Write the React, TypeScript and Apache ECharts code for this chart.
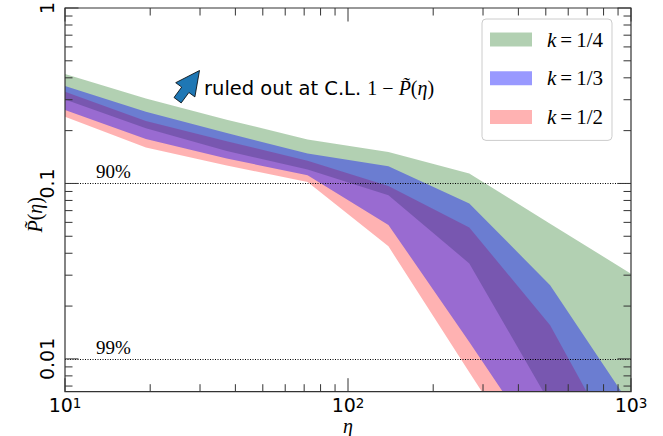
import React, { useEffect, useRef } from 'react';
import * as echarts from 'echarts';

// ---- data ----
const etaValues = [10, 19.31, 37.28, 71.97, 138.95, 268.27, 517.95, 1000];

const k14Upper = [0.42, 0.305, 0.231, 0.178, 0.151, 0.114, 0.0589, 0.0306];
const k14Lower = [0.301, 0.206, 0.153, 0.12, 0.0857, 0.035, 0.00556, 0.00088];

const k13Upper = [0.359, 0.256, 0.194, 0.148, 0.1255, 0.0769, 0.0263, 0.00538];
const k13Lower = [0.262, 0.179, 0.1385, 0.1115, 0.058, 0.0125, 0.00257, 0.00053];

const k12Upper = [0.333, 0.2266, 0.174, 0.1346, 0.0967, 0.0561, 0.01555, 0.00225];
const k12Lower = [0.24, 0.1605, 0.1264, 0.102, 0.0438, 0.0084, 0.00163, 0.00031];

const legendNames = ['k=1/4', 'k=1/3', 'k=1/2'];

const xMajorTicks = [10, 100, 1000];
const xTickExponents = ['1', '2', '3'];
const xMinorTicks = [20, 30, 40, 50, 60, 70, 80, 90, 200, 300, 400, 500, 600, 700, 800, 900];

const yMajorTicks = [0.01, 0.1, 1];
const yTickLabels = ['0.01', '0.1', '1'];
const yMinorTicks = [0.007, 0.008, 0.009, 0.02, 0.03, 0.04, 0.05, 0.06, 0.07, 0.08, 0.09, 0.2, 0.3, 0.4, 0.5, 0.6, 0.7, 0.8, 0.9];

const refLevels = [0.1, 0.01];
const refLabels = ['90%', '99%'];

const X_MIN = 10;
const X_MAX = 1000;
const Y_MIN = 0.0065;
const Y_MAX = 1;

// ---- styles ----
const SANS = 'DejaVu Sans';
const SERIF = 'Liberation Serif';
const AXIS_COLOR = '#333333';
const MAJOR_LEN = 13.5;
const MINOR_LEN = 7.5;

function findIndex(list: number[], v: number) {
  return list.findIndex((t) => Math.abs(t - v) / t < 1e-6);
}

function bandSeries(name: string, color: string, lower: number[], upper: number[]) {
  return {
    type: 'custom',
    name,
    clip: true,
    color,
    itemStyle: { color },
    silent: true,
    data: etaValues.map((x, i) => [x, lower[i], upper[i]]),
    encode: { x: 0, y: [1, 2] },
    renderItem: (params: any, api: any) => {
      if (params.dataIndex !== 0) return null;
      const top = etaValues.map((x, i) => api.coord([x, upper[i]]));
      const bot = etaValues.map((x, i) => api.coord([x, lower[i]])).reverse();
      return {
        type: 'polygon',
        shape: { points: [...top, ...bot] },
        style: { fill: color, stroke: 'none' },
      };
    },
  };
}

const legendRich = {
  i: { fontFamily: SERIF, fontStyle: 'italic', fontSize: 21, color: '#000' },
  m: { fontFamily: SERIF, fontSize: 21, color: '#000' },
  e: { fontFamily: SERIF, fontSize: 21, color: '#000', padding: [0, 4, 0, 4] },
};

const nameRich = {
  i: { fontFamily: SERIF, fontStyle: 'italic', fontSize: 20, color: '#000', lineHeight: 18 },
  m: { fontFamily: SERIF, fontSize: 20, color: '#000', lineHeight: 18 },
};

function buildOption() {
  const xTickAll = [...xMajorTicks, ...xMinorTicks];
  const yTickAll = [...yMajorTicks, ...yMinorTicks];

  return {
    animation: false,
    grid: { left: 65, right: 32, top: 8, bottom: 44.3, containLabel: false, outerBoundsMode: 'none' },
    xAxis: {
      type: 'log',
      logBase: 10,
      min: X_MIN,
      max: X_MAX,
      name: '{i|η}',
      nameLocation: 'middle',
      nameGap: 25,
      nameMoveOverlap: false,
      nameTextStyle: { rich: nameRich, lineHeight: 18, verticalAlign: 'top' },
      axisLine: { show: false },
      axisTick: { show: false },
      splitLine: { show: false },
      minorTick: { show: false },
      axisLabel: {
        margin: 4,
        color: '#000',
        lineHeight: 19,
        formatter: (v: number) => {
          const idx = findIndex(xMajorTicks, v);
          return idx < 0 ? '' : `{b|10}{s|${xTickExponents[idx]}}`;
        },
        rich: {
          b: { fontFamily: SANS, fontSize: 19, color: '#000', lineHeight: 19 },
          s: { fontFamily: SANS, fontSize: 13.5, color: '#000', verticalAlign: 'top', lineHeight: 14 },
        },
      },
    },
    yAxis: {
      type: 'log',
      logBase: 10,
      min: Y_MIN,
      max: Y_MAX,
      name: '{i|P\u0303}{m|(}{i|η}{m|)}',
      nameLocation: 'middle',
      nameRotate: 90,
      nameGap: 21,
      nameMoveOverlap: false,
      nameTextStyle: { rich: nameRich, padding: [0, 30, 0, 0] },
      axisLine: { show: false },
      axisTick: { show: false },
      splitLine: { show: false },
      axisLabel: {
        rotate: 90,
        margin: 9,
        color: '#000',
        fontFamily: SANS,
        fontSize: 19,
        formatter: (v: number) => {
          const idx = findIndex(yMajorTicks, v);
          return idx < 0 ? '' : yTickLabels[idx];
        },
      },
    },
    legend: {
      data: legendNames,
      orient: 'vertical',
      left: 482,
      top: 19,
      icon: 'rect',
      itemWidth: 42,
      itemHeight: 14,
      itemGap: 17.7,
      padding: [10, 9, 13, 8],
      backgroundColor: 'rgba(255,255,255,0.8)',
      borderColor: '#cccccc',
      borderWidth: 1,
      borderRadius: 4,
      selectedMode: false,
      formatter: (name: string) => `{i|k}{e|=}{m|${name.split('=')[1]}}`,
      textStyle: {
        padding: [0, 0, 0, 10],
        lineHeight: 14,
        rich: legendRich,
      },
    },
    graphic: [
      {
        type: 'polygon',
        z: 20,
        shape: {
          points: [
            [199.5, 70.5],
            [194.9, 96.9],
            [188.9, 92.5],
            [181.2, 102.9],
            [174.0, 97.5],
            [181.7, 87.1],
            [175.7, 82.7],
          ],
        },
        style: { fill: '#1f77b4', stroke: '#000', lineWidth: 0.8 },
      },
      {
        type: 'text',
        z: 20,
        x: 204,
        y: 88,
        style: {
          text: '{a|ruled out at C.L. }{m|1 − }{i|P\u0303}{m|(}{i|η}{m|)}',
          verticalAlign: 'middle',
          rich: {
            a: { fontFamily: SANS, fontSize: 19.5, fill: '#000' },
            i: { fontFamily: SERIF, fontStyle: 'italic', fontSize: 20, fill: '#000' },
            m: { fontFamily: SERIF, fontSize: 20, fill: '#000' },
          },
        },
      },
    ],
    series: [
      bandSeries(legendNames[0], 'rgba(0,100,0,0.3)', k14Lower, k14Upper),
      bandSeries(legendNames[2], 'rgba(255,0,0,0.3)', k12Lower, k12Upper),
      bandSeries(legendNames[1], 'rgba(0,0,255,0.4)', k13Lower, k13Upper),
      {
        type: 'line',
        name: 'ref',
        data: [],
        silent: true,
        z: 8,
        markLine: {
          silent: true,
          symbol: ['none', 'none'],
          lineStyle: { type: [1, 1.5], color: '#000', width: 1 },
          label: {
            position: 'insideStartTop',
            distance: [31, 2],
            fontFamily: SERIF,
            fontSize: 19,
            color: '#000',
          },
          data: refLevels.map((v, i) => ({ yAxis: v, label: { formatter: refLabels[i] } })),
        },
      },
      {
        type: 'custom',
        name: 'xticks',
        silent: true,
        z: 10,
        clip: false,
        data: xTickAll.map((v) => [v, 1]),
        renderItem: (params: any, api: any) => {
          const cs = params.coordSys;
          const v = api.value(0);
          const px = api.coord([v, 1])[0];
          const len = findIndex(xMajorTicks, v) >= 0 ? MAJOR_LEN : MINOR_LEN;
          const bottom = cs.y + cs.height;
          const top = cs.y;
          const style = { stroke: AXIS_COLOR, lineWidth: 1 };
          const children: any[] = [
            { type: 'line', shape: { x1: px, y1: bottom, x2: px, y2: bottom - len }, style },
            { type: 'line', shape: { x1: px, y1: top, x2: px, y2: top + len }, style },
          ];
          if (params.dataIndex === 0) {
            children.push({
              type: 'rect',
              shape: { x: cs.x, y: cs.y, width: cs.width, height: cs.height },
              style: { fill: 'none', stroke: AXIS_COLOR, lineWidth: 1.2 },
            });
          }
          return { type: 'group', children };
        },
      },
      {
        type: 'custom',
        name: 'yticks',
        silent: true,
        z: 10,
        clip: false,
        data: yTickAll.map((v) => [10, v]),
        renderItem: (params: any, api: any) => {
          const cs = params.coordSys;
          const v = api.value(1);
          const py = api.coord([10, v])[1];
          const len = findIndex(yMajorTicks, v) >= 0 ? MAJOR_LEN : MINOR_LEN;
          const left = cs.x;
          const right = cs.x + cs.width;
          const style = { stroke: AXIS_COLOR, lineWidth: 1 };
          return {
            type: 'group',
            children: [
              { type: 'line', shape: { x1: left, y1: py, x2: left + len, y2: py }, style },
              { type: 'line', shape: { x1: right, y1: py, x2: right - len, y2: py }, style },
            ],
          };
        },
      },
    ],
  };
}

export default function App() {
  const ref = useRef<HTMLDivElement>(null);
  useEffect(() => {
    if (!ref.current) return;
    const chart = echarts.init(ref.current, null, { renderer: 'svg' });
    chart.setOption(buildOption() as any);
    return () => chart.dispose();
  }, []);
  return (
    <div
      ref={ref}
      style={{ position: 'absolute', left: 0, top: 0, width: 663, height: 436, background: '#fff' }}
    />
  );
}
